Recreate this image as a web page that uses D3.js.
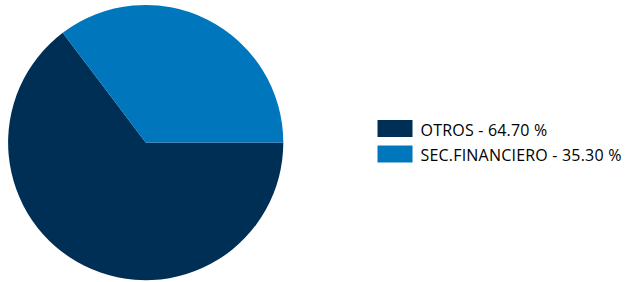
<!DOCTYPE html>
<html><head><meta charset="utf-8">
<script src="https://cdn.jsdelivr.net/npm/d3@7"></script>
<style>body{margin:0;background:#fff}svg{display:block}</style>
</head><body>
<svg id="c" width="625" height="282"></svg>
<script>
const categories = ["OTROS", "SEC.FINANCIERO"];
const values = [64.70, 35.30];
const colors = ["#002f56", "#0077bd"];

const svg = d3.select("#c");
const cx = 145.7, cy = 142.6, r = 137.6;
const pie = d3.pie().sort(null).startAngle(Math.PI/2).endAngle(Math.PI/2 + 2*Math.PI);
const arc = d3.arc().innerRadius(0).outerRadius(r);
const data = categories.map((c,i)=>({c, v: values[i], color: colors[i]}));
svg.append("g").attr("transform",`translate(${cx},${cy})`)
  .selectAll("path").data(pie.value(d=>d.v)(data)).join("path")
  .attr("d", arc).attr("fill", d=>d.data.color);

const lg = svg.append("g").attr("transform","translate(377.5,120)");
const items = lg.selectAll("g").data(data).join("g").attr("transform",(d,i)=>`translate(0,${i*25.5})`);
items.append("rect").attr("width",35).attr("height",17).attr("fill",d=>d.color);
items.append("text").attr("x",43).attr("y",15.5).attr("font-family","Open Sans").attr("font-size",16)
  .attr("letter-spacing",0.2).attr("fill","#000")
  .text(d=>`${d.c} - ${d.v.toFixed(2)} %`);
</script>
</body></html>
